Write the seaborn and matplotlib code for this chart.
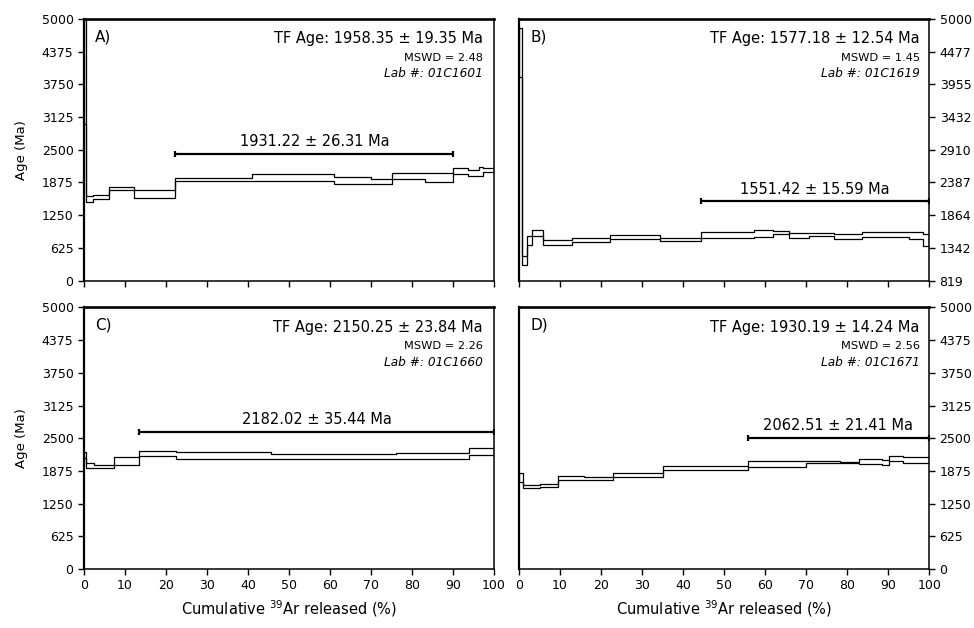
import numpy as np
import pandas as pd
import seaborn as sns
import matplotlib
matplotlib.use("Agg")
import matplotlib.pyplot as plt

sns.set_style("ticks")
plt.rcParams['font.family'] = ['DejaVu Sans']
plt.rcParams['text.color'] = 'black'
plt.rcParams['axes.labelcolor'] = 'black'

# 每个台阶：累计 39Ar 边界 (%)，年龄下限 / 上限 (Ma)
a_edges = [0, 0.5, 2.1, 6.0, 12.3, 22.3, 41.0, 61.0, 70.1, 75.2, 83.2, 90.1, 93.7, 96.3, 97.3, 100]
a_lo = [3000, 1500, 1565, 1723, 1584, 1908, 1895, 1851, 1837, 1940, 1883, 2036, 2003, 1990, 2080]
a_hi = [7000, 1610, 1628, 1780, 1723, 1960, 2036, 1984, 1946, 2060, 2055, 2150, 2118, 2170, 2150]

b_edges = [0, 0.6, 2.0, 3.25, 5.9, 12.85, 22.2, 34.4, 44.3, 57.4, 61.9, 65.9, 70.8, 76.9, 83.6, 95.0, 98.4, 100]
b_lo = [4070, 1074, 1394, 1537, 1382, 1437, 1489, 1457, 1500, 1521, 1564, 1505, 1526, 1484, 1510, 1484, 1378]
b_hi = [4850, 1207, 1537, 1633, 1473, 1500, 1553, 1500, 1590, 1622, 1606, 1580, 1574, 1564, 1601, 1590, 1569]

c_edges = [0, 0.6, 2.4, 7.4, 13.5, 22.4, 45.5, 76.1, 94.0, 100]
c_lo = [2120, 1929, 1940, 1993, 2152, 2108, 2102, 2102, 2184]
c_hi = [2245, 2025, 1993, 2133, 2248, 2228, 2198, 2216, 2305]

d_edges = [0, 1.05, 2.3, 5.0, 9.4, 15.9, 22.8, 35.0, 55.7, 70.0, 78.3, 82.8, 88.5, 90.3, 93.7, 100]
d_lo = [1673, 1546, 1558, 1565, 1705, 1705, 1750, 1897, 1960, 2025, 2030, 2012, 1993, 2056, 2025]
d_hi = [1845, 1609, 1603, 1629, 1788, 1769, 1834, 1973, 2069, 2056, 2050, 2102, 2088, 2165, 2133]

panel_names = ['A)', 'B)', 'C)', 'D)']
tf_ages = ['1958.35 ± 19.35', '1577.18 ± 12.54', '2150.25 ± 23.84', '1930.19 ± 14.24']
mswd = ['2.48', '1.45', '2.26', '2.56']
lab_ids = ['01C1601', '01C1619', '01C1660', '01C1671']
plateau_text = ['1931.22 ± 26.31 Ma', '1551.42 ± 15.59 Ma', '2182.02 ± 35.44 Ma', '2062.51 ± 21.41 Ma']
plateau_start = [22.3, 44.3, 13.5, 55.7]
plateau_end = [90.1, 100, 100, 100]
plateau_bar_y = [2417, 2085, 2619, 2504]

y_min = [0, 819, 0, 0]
y_ticklabels_a = ['0', '625', '1250', '1875', '2500', '3125', '3750', '4375', '5000']
y_ticklabels_b = ['819', '1342', '1864', '2387', '2910', '3432', '3955', '4477', '5000']
x_ticks = [0, 10, 20, 30, 40, 50, 60, 70, 80, 90, 100]

steps = [(a_edges, a_lo, a_hi), (b_edges, b_lo, b_hi), (c_edges, c_lo, c_hi), (d_edges, d_lo, d_hi)]
ytl = [y_ticklabels_a, y_ticklabels_b, y_ticklabels_a, y_ticklabels_a]

fig, axes = plt.subplots(2, 2, figsize=(9.74, 6.28), dpi=100)
plt.subplots_adjust(left=0.0862, right=0.954, top=0.9697, bottom=0.0939, wspace=0.061, hspace=0.103)

for i, ax in enumerate(axes.flat):
    edges, lo, hi = steps[i]
    df = pd.DataFrame({'x': edges, 'hi': hi + [hi[-1]], 'lo': lo + [lo[-1]]})
    for col in ['hi', 'lo']:
        sns.lineplot(data=df, x='x', y=col, ax=ax, estimator=None, sort=False,
                     drawstyle='steps-post', color='black', lw=0.9)
    ax.vlines([edges[0], edges[-1]], [lo[0], lo[-1]], [hi[0], hi[-1]], color='black', lw=0.9)

    # 坪年龄线
    x0, x1 = plateau_start[i], plateau_end[i]
    ax.errorbar((x0 + x1) / 2, plateau_bar_y[i], xerr=(x1 - x0) / 2, fmt='none',
                ecolor='black', elinewidth=1.6, capsize=2.3, capthick=1.6)
    ax.annotate(plateau_text[i], xy=((x0 + x1) / 2, plateau_bar_y[i]), xytext=(0, 5.5),
                textcoords='offset points', ha='center', va='baseline', fontsize=10.5)

    ax.text(0.027, 0.915, panel_names[i], transform=ax.transAxes, fontsize=11, va='baseline')
    right = 0.972 if i % 2 == 0 else 0.977
    ax.text(right, 0.908, 'TF Age: ' + tf_ages[i] + ' Ma', transform=ax.transAxes,
            ha='right', va='baseline', fontsize=10.5)
    ax.text(right, 0.840, 'MSWD = ' + mswd[i], transform=ax.transAxes,
            ha='right', va='baseline', fontsize=8.2)
    ax.text(right, 0.777, 'Lab #: ' + lab_ids[i], transform=ax.transAxes,
            ha='right', va='baseline', fontsize=8.7, style='italic')

    ax.set_xlim(0, 100)
    ax.set_ylim(y_min[i], 5000)
    ax.set_xticks(x_ticks)
    ax.set_yticks(np.linspace(y_min[i], 5000, 9))
    ax.set_yticklabels(ytl[i])
    ax.tick_params(direction='out', length=4, width=1, labelsize=9, colors='black')
    if i < 2:
        ax.set_xticklabels([])
        ax.set_xlabel('')
    else:
        ax.set_xlabel(r'Cumulative $^{39}$Ar released (%)', fontsize=10.5, labelpad=4)
    if i % 2 == 0:
        ax.set_ylabel('Age (Ma)', fontsize=9.5, labelpad=10)
    else:
        ax.yaxis.tick_right()
        ax.set_ylabel('')

    for side in ['top', 'bottom', 'left', 'right']:
        ax.spines[side].set_visible(True)
        ax.spines[side].set_color('black')
    ax.spines['top'].set_linewidth(1.9)
    ax.spines['left'].set_linewidth(1.6)
    ax.spines['right'].set_linewidth(1.1)
    ax.spines['bottom'].set_linewidth(1.1)

fig.savefig('out.png', dpi=100, facecolor='white')
